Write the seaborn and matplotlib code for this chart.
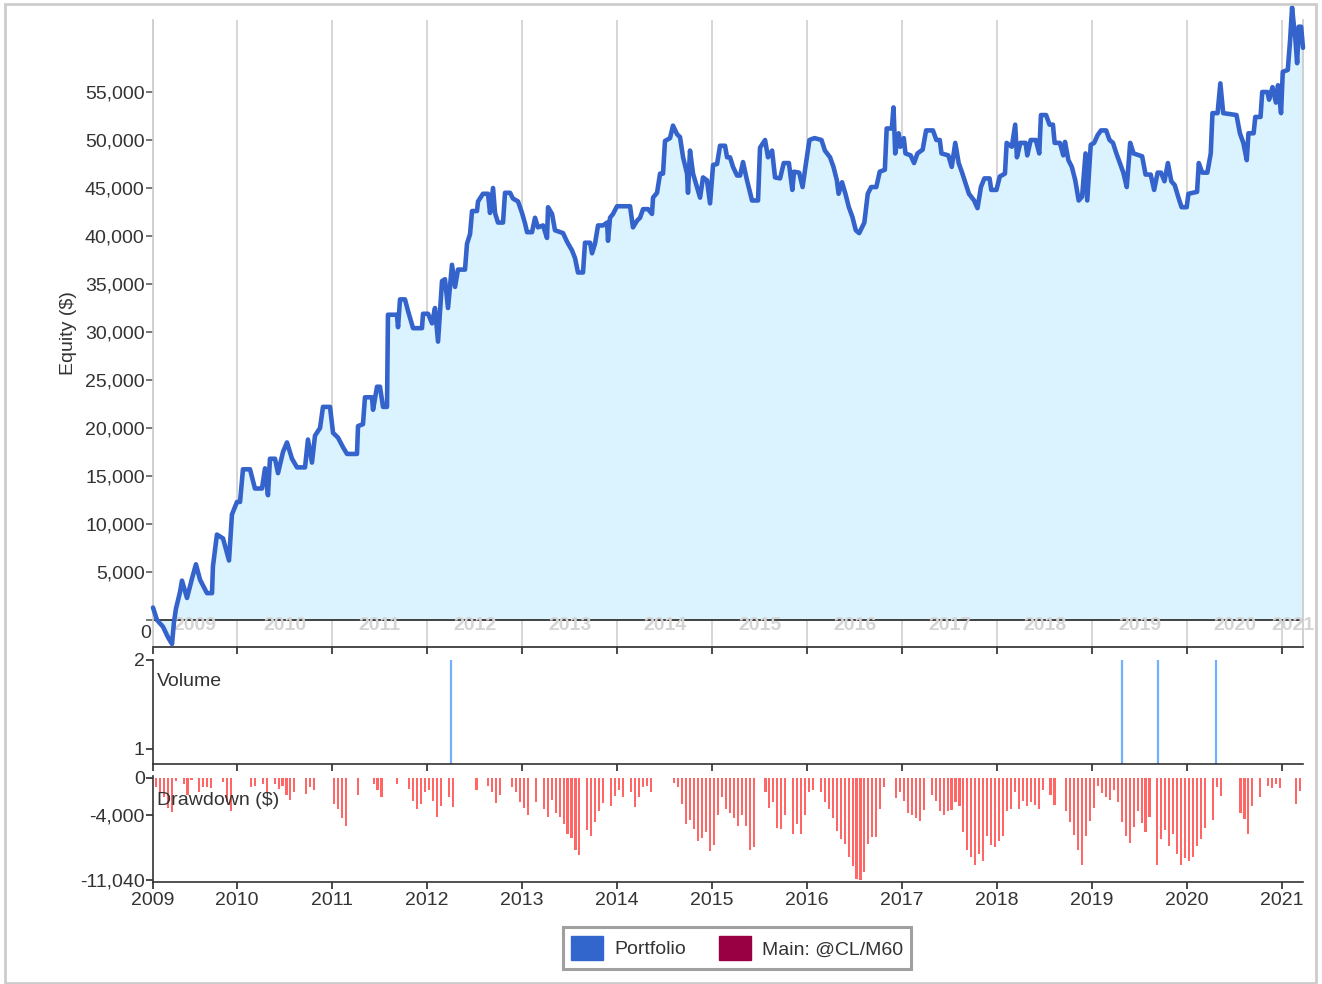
import numpy as np
import pandas as pd
import matplotlib
matplotlib.use("Agg")
import matplotlib.pyplot as plt
import matplotlib.transforms as mtransforms
from matplotlib.patches import Patch, Rectangle
from matplotlib.ticker import FuncFormatter
import seaborn as sns

# ------------- #
# Equity curve  #
# ------------- #
eq_t = [
    2009.116, 2009.158, 2009.221, 2009.274, 2009.316, 2009.337, 2009.358, 2009.400, 2009.421, 2009.474,
    2009.526, 2009.568, 2009.611, 2009.684, 2009.737, 2009.747, 2009.789, 2009.853, 2009.916, 2009.947,
    2010.000, 2010.032, 2010.063, 2010.137, 2010.189, 2010.263, 2010.295, 2010.326, 2010.347, 2010.400,
    2010.432, 2010.484, 2010.526, 2010.579, 2010.632, 2010.716, 2010.747, 2010.789, 2010.821, 2010.874,
    2010.905, 2010.979, 2011.011, 2011.063, 2011.116, 2011.158, 2011.263, 2011.274, 2011.326, 2011.347,
    2011.421, 2011.432, 2011.474, 2011.505, 2011.537, 2011.579, 2011.589, 2011.684, 2011.695, 2011.716,
    2011.768, 2011.800, 2011.853, 2011.947, 2011.958, 2012.011, 2012.053, 2012.084, 2012.116, 2012.158,
    2012.189, 2012.221, 2012.263, 2012.295, 2012.326, 2012.400, 2012.421, 2012.453, 2012.474, 2012.526,
    2012.537, 2012.589, 2012.642, 2012.663, 2012.695, 2012.716, 2012.747, 2012.800, 2012.821, 2012.874,
    2012.905, 2012.958, 2013.000, 2013.032, 2013.053, 2013.105, 2013.137, 2013.168, 2013.221, 2013.263,
    2013.274, 2013.316, 2013.347, 2013.432, 2013.474, 2013.526, 2013.558, 2013.589, 2013.642, 2013.663,
    2013.716, 2013.737, 2013.768, 2013.800, 2013.853, 2013.895, 2013.905, 2013.926, 2013.958, 2014.000,
    2014.137, 2014.168, 2014.211, 2014.242, 2014.274, 2014.326, 2014.368, 2014.379, 2014.421, 2014.453,
    2014.484, 2014.505, 2014.558, 2014.589, 2014.632, 2014.663, 2014.695, 2014.737, 2014.747, 2014.768,
    2014.800, 2014.842, 2014.874, 2014.905, 2014.947, 2014.979, 2015.011, 2015.053, 2015.084, 2015.137,
    2015.158, 2015.189, 2015.221, 2015.263, 2015.295, 2015.326, 2015.368, 2015.421, 2015.484, 2015.505,
    2015.558, 2015.589, 2015.632, 2015.663, 2015.716, 2015.755, 2015.809, 2015.845, 2015.863, 2015.917,
    2015.953, 2015.989, 2016.025, 2016.079, 2016.152, 2016.188, 2016.242, 2016.278, 2016.314, 2016.332,
    2016.368, 2016.404, 2016.440, 2016.477, 2016.513, 2016.549, 2016.603, 2016.639, 2016.675, 2016.729,
    2016.765, 2016.819, 2016.838, 2016.892, 2016.910, 2016.928, 2016.964, 2016.982, 2017.018, 2017.036,
    2017.090, 2017.126, 2017.162, 2017.217, 2017.253, 2017.325, 2017.361, 2017.397, 2017.415, 2017.487,
    2017.523, 2017.560, 2017.596, 2017.632, 2017.668, 2017.704, 2017.758, 2017.794, 2017.830, 2017.866,
    2017.921, 2017.939, 2017.993, 2018.029, 2018.083, 2018.101, 2018.155, 2018.191, 2018.209, 2018.245,
    2018.300, 2018.318, 2018.354, 2018.408, 2018.444, 2018.462, 2018.516, 2018.552, 2018.588, 2018.606,
    2018.661, 2018.697, 2018.715, 2018.751, 2018.787, 2018.823, 2018.859, 2018.895, 2018.931, 2018.949,
    2018.986, 2019.022, 2019.058, 2019.094, 2019.148, 2019.184, 2019.220, 2019.256, 2019.292, 2019.329,
    2019.365, 2019.401, 2019.437, 2019.527, 2019.563, 2019.617, 2019.653, 2019.690, 2019.726, 2019.762,
    2019.798, 2019.834, 2019.870, 2019.906, 2019.942, 2019.996, 2020.014, 2020.105, 2020.123, 2020.159,
    2020.213, 2020.249, 2020.267, 2020.321, 2020.350, 2020.380, 2020.520, 2020.556, 2020.592, 2020.628,
    2020.646, 2020.700, 2020.718, 2020.773, 2020.791, 2020.845, 2020.863, 2020.899, 2020.935, 2020.957,
    2020.989, 2021.007, 2021.060, 2021.085, 2021.105, 2021.125, 2021.140, 2021.158, 2021.175, 2021.200,
    2021.220,
]
eq_v = [
    1300, 0, -700, -1800, -2500, -200, 1200, 2900, 4100, 2300,
    4300, 5800, 4200, 2800, 2800, 5600, 8900, 8500, 6200, 11000,
    12300, 12300, 15700, 15700, 13700, 13700, 15800, 13000, 16800, 16800,
    15300, 17500, 18500, 16800, 15900, 15900, 18800, 16400, 19200, 20000,
    22200, 22200, 19500, 19000, 18000, 17300, 17300, 20200, 20400, 23200,
    23200, 21900, 24300, 24300, 22200, 22200, 31800, 31800, 30500, 33400,
    33400, 32200, 30400, 30400, 31900, 31900, 30900, 32500, 29000, 35300,
    35500, 32500, 37000, 34700, 36500, 36500, 39200, 40200, 42600, 42600,
    43600, 44400, 44400, 42400, 45000, 42400, 41400, 41400, 44500, 44500,
    43900, 43600, 42400, 41300, 40400, 40400, 41900, 40900, 41100, 39800,
    43000, 42300, 40600, 40300, 39400, 38500, 37700, 36200, 36200, 39300,
    39300, 38200, 39200, 41100, 41100, 41400, 39500, 41900, 42300, 43100,
    43100, 40900, 41600, 41900, 42800, 42800, 42300, 44000, 44500, 46500,
    46500, 49900, 50200, 51500, 50600, 50300, 48200, 46500, 44500, 48900,
    46500, 45100, 44000, 46100, 45800, 43400, 47400, 47500, 49400, 49400,
    48200, 48200, 47200, 46300, 46300, 47700, 45800, 43700, 43700, 49200,
    50000, 48200, 48900, 46100, 46000, 47600, 47600, 44800, 46700, 46600,
    45100, 47600, 50000, 50200, 50000, 48900, 48200, 47200, 45800, 44400,
    45600, 44400, 43000, 42000, 40600, 40300, 41400, 44400, 45100, 45100,
    46700, 46900, 51200, 51200, 53400, 48600, 50700, 49300, 50200, 48600,
    48400, 47600, 48600, 49000, 51000, 51000, 50000, 50000, 48600, 48400,
    47200, 49700, 47600, 46600, 45500, 44400, 43700, 42900, 45100, 46000,
    46000, 44800, 44800, 46200, 46500, 49700, 49300, 51600, 48200, 49700,
    49700, 48400, 50000, 50000, 48600, 52600, 52600, 51600, 51600, 49700,
    49700, 48400, 49800, 47900, 47200, 45800, 43700, 44100, 48600, 43700,
    49500, 49700, 50500, 51000, 51000, 50000, 49700, 48600, 47600, 46600,
    45100, 49700, 48600, 48300, 46400, 46400, 44800, 46600, 46600, 45700,
    47600, 45700, 45300, 44100, 43000, 43000, 44400, 44600, 47600, 46600,
    46600, 48600, 52800, 52800, 55900, 52800, 52600, 50700, 49700, 47900,
    50700, 50700, 52400, 52400, 55000, 55000, 54200, 55500, 53900, 55700,
    52800, 57100, 57300, 60500, 63800, 61800, 60500, 58000, 61800, 61800,
    59600,
]

# ------------------------------------- #
# Volume (trade size) and drawdown ($)  #
# ------------------------------------- #
vol_t = [2012.253, 2019.316, 2019.695, 2020.305]
vol_v = [2, 2, 2, 2]

# drawdown magnitude, one bar per half month (2009 starts mid February)
dd_2009 = [1000, 1600, 2100, 3200, 3700, 300, 0, 600, 1800, 200, 0, 1500, 1000, 1000, 1100,
           0, 0, 400, 2600, 3600, 0]
dd_2010 = [0, 0, 0, 1000, 900, 0, 700, 1500, 0, 600, 1200, 900, 1800, 2400, 1500, 0, 0, 1700,
           1000, 1300, 0, 0, 0, 0]
dd_2011 = [2800, 3300, 4300, 5200, 0, 0, 1800, 0, 0, 0, 700, 1300, 2000, 0, 0, 0, 700, 0, 0,
           1200, 2500, 3300, 2800, 1500]
dd_2012 = [1300, 2500, 4200, 3000, 0, 2000, 3100, 0, 0, 0, 0, 0, 1300, 0, 0, 900, 1500, 2700,
           1800, 0, 0, 1000, 1500, 2600]
dd_2013 = [3200, 4000, 0, 2600, 0, 3300, 4200, 2400, 3800, 4200, 5000, 6000, 6500, 7800, 8300,
           0, 5600, 6300, 4800, 3600, 2700, 0, 3000, 1900]
dd_2014 = [1300, 2000, 0, 1500, 3100, 2000, 1000, 900, 1500, 0, 0, 0, 0, 0, 500, 1000, 2800,
           5000, 4500, 5500, 6800, 6500, 5800, 7900]
dd_2015 = [7200, 4000, 2100, 3300, 3800, 4300, 5200, 4000, 5200, 7800, 7400, 0, 0, 1500, 3200,
           2600, 5400, 5500, 4000, 0, 6000, 5000, 6000, 4000]
dd_2016 = [1500, 1300, 0, 1500, 2600, 3300, 4300, 5700, 6600, 7100, 8500, 9500, 10900, 11040,
           10100, 7100, 6400, 6400, 3300, 1000, 0, 0, 2200, 1500]
dd_2017 = [2500, 3800, 4000, 4300, 4600, 3500, 0, 1800, 2500, 3600, 4000, 3600, 3500, 2600, 3000,
           5800, 7800, 8500, 9400, 8200, 9000, 6300, 7200, 7400]
dd_2018 = [6800, 6300, 3600, 3400, 1500, 3300, 2500, 3000, 2600, 2900, 3400, 1300, 0, 1800, 2900,
           0, 0, 3600, 4800, 6200, 7800, 9400, 6300, 4600]
dd_2019 = [3200, 900, 1600, 2000, 2400, 1300, 2600, 4800, 6300, 7000, 5300, 3600, 4900, 5800,
           4200, 0, 9400, 6600, 5600, 7300, 6100, 8200, 9400, 8600]
dd_2020 = [9000, 8500, 7300, 6600, 5400, 0, 4500, 1000, 1900, 0, 0, 0, 0, 3800, 4400, 6000,
           3000, 0, 2000, 0, 900, 1100, 700, 1100]
dd_2021 = [0, 0, 0, 2800, 1400]

years = list(range(2009, 2022))
year_labels = [str(y) for y in years]
t_start, t_end = 2009.116, 2021.22

# half-month bar positions
dd_rows = [dd_2009, dd_2010, dd_2011, dd_2012, dd_2013, dd_2014, dd_2015,
           dd_2016, dd_2017, dd_2018, dd_2019, dd_2020, dd_2021]
dd_t, dd_v = [], []
for year, row in zip(years, dd_rows):
    first = 24 - len(row) if year == 2009 else 0
    for k, v in enumerate(row):
        dd_t.append(year + (first + k + 0.5) / 24)
        dd_v.append(-v)

eq = pd.DataFrame({"t": eq_t, "equity": eq_v})

# ------- #
# Styling #
# ------- #
sns.set_theme(style="white")
plt.rcParams["font.family"] = ["Liberation Sans", "DejaVu Sans"]
TXT = "#333333"
FS = 14

W, H = 1322, 984
fig = plt.figure(figsize=(W / 100, H / 100), dpi=100)


def box(x0, y0, x1, y1):
    return [x0 / W, 1 - y1 / H, (x1 - x0) / W, (y1 - y0) / H]


ax_eq = fig.add_axes(box(153, 20, 1303, 647))
ax_vol = fig.add_axes(box(153, 660, 1303, 764), sharex=ax_eq)
ax_dd = fig.add_axes(box(153, 776, 1303, 882), sharex=ax_eq)

# equity panel
ax_eq.fill_between(eq["t"], eq["equity"], 0, color="#dbf3fe", lw=0, clip_on=False, zorder=1)
sns.lineplot(data=eq, x="t", y="equity", ax=ax_eq, color="#3563cc", linewidth=3.3,
             estimator=None, sort=False, clip_on=False, zorder=3)
ax_eq.axhline(0, color=TXT, lw=1.3, zorder=2)
ax_eq.set_ylim(-2810, 62500)
ax_eq.set_yticks(np.arange(0, 55001, 5000))
ax_eq.yaxis.set_major_formatter(FuncFormatter(lambda v, p: f"{v:,.0f}"))
ax_eq.set_ylabel("Equity ($)", fontsize=FS, color=TXT, labelpad=6)
ax_eq.set_xlabel("")
ax_eq.grid(True, axis="x", color="#cccccc", lw=1.1)
ax_eq.grid(False, axis="y")
for s in ["left", "right"]:
    ax_eq.spines[s].set_color("#cccccc")
ax_eq.spines["top"].set_visible(False)
ax_eq.spines["bottom"].set_color(TXT)
ax_eq.tick_params(axis="y", left=True, length=5, color="#666666", labelsize=FS,
                  labelcolor=TXT, pad=1)
ax_eq.tick_params(axis="x", bottom=True, length=5, color=TXT, labelbottom=False)
for y in years:
    mid = (max(y, t_start) + min(y + 1, t_end)) / 2
    ax_eq.text(mid, -520, str(y), color="#d4d4d4", fontsize=FS, ha="center", va="center",
               fontweight="bold", zorder=2)

# shift the "0" label a bit lower, as in the original
ax_eq.yaxis.get_major_ticks()[0].label1.set_transform(
    ax_eq.get_yaxis_text1_transform(1)[0]
    + mtransforms.ScaledTranslation(0, -11 / 100, fig.dpi_scale_trans))

# volume panel
ax_vol.vlines(vol_t, 0, vol_v, color="#70b0ff", lw=1.6)
ax_vol.set_ylim(0.83, 2.0)
ax_vol.set_yticks([1, 2])
ax_vol.text(t_start + 0.04, 1.76, "Volume", fontsize=FS, color=TXT, ha="left", va="center")

# drawdown panel
ax_dd.bar(dd_t, dd_v, width=0.022, color="#ff6666", linewidth=0)
ax_dd.set_ylim(-11232, 216)
ax_dd.set_yticks([0, -4000, -11040])
ax_dd.set_yticklabels(["0", "-4,000", "-11,040"])
ax_dd.text(t_start + 0.04, -2400, "Drawdown ($)", fontsize=FS, color=TXT, ha="left",
           va="center", zorder=5)

for ax in (ax_vol, ax_dd):
    ax.spines["top"].set_visible(False)
    ax.spines["right"].set_visible(False)
    for s in ["left", "bottom"]:
        ax.spines[s].set_color(TXT)
        ax.spines[s].set_linewidth(1.2)
    ax.tick_params(axis="y", left=True, length=5, color=TXT, labelsize=FS, labelcolor=TXT, pad=1)
    ax.tick_params(axis="x", bottom=True, length=5, color=TXT, labelsize=FS, labelcolor=TXT, pad=2)
    ax.grid(False)
ax_vol.tick_params(axis="x", labelbottom=False)

ax_eq.set_xticks([t_start] + years[1:])
ax_eq.set_xlim(t_start, t_end)
ax_dd.set_xticklabels(year_labels)

# legend
handles = [Patch(facecolor="#3366cc", edgecolor="#3366cc", label="Portfolio"),
           Patch(facecolor="#990044", edgecolor="#990044", label="Main: @CL/M60")]
leg = fig.legend(handles=handles, loc="center", bbox_to_anchor=(737 / W, 1 - 948 / H), ncol=2,
                 fontsize=FS, frameon=True, fancybox=False, handlelength=1.65,
                 handleheight=1.5, handletextpad=0.55, columnspacing=1.7, borderpad=0.45)
leg.get_frame().set_edgecolor("#888888")
leg.get_frame().set_linewidth(2.2)
for t in leg.get_texts():
    t.set_color(TXT)

# outer frame
fig.patches.append(Rectangle((5 / W, 1 - 983 / H), 1311 / W, 979 / H, transform=fig.transFigure,
                             fill=False, edgecolor="#cccccc", lw=2))

fig.savefig("out.png", dpi=100)
